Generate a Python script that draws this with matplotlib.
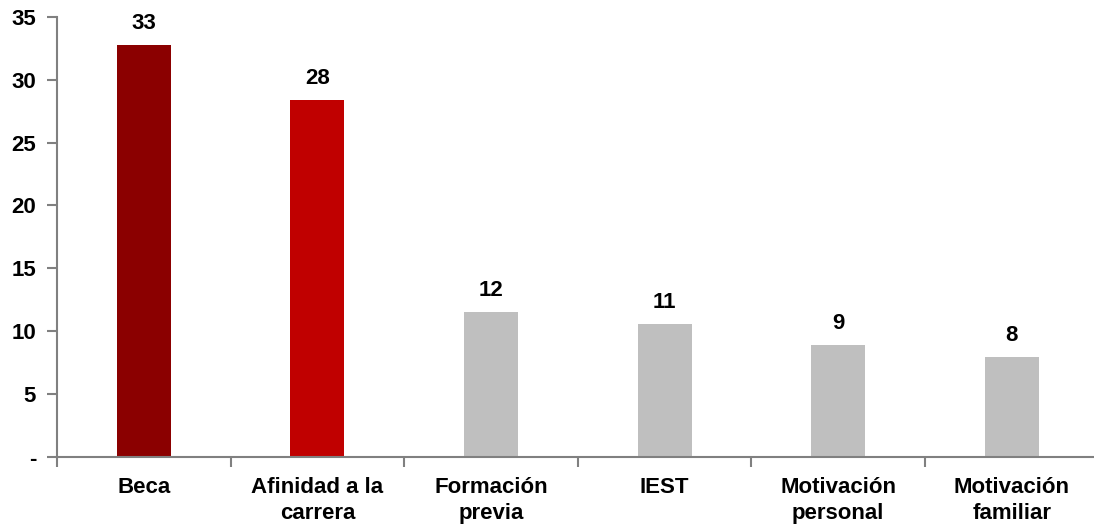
import matplotlib
matplotlib.use("Agg")
import matplotlib.pyplot as plt
from matplotlib.ticker import FixedLocator

# Reasons for choosing the programme (percent of respondents)
categories = ["Beca", "Afinidad a la\ncarrera", "Formación\nprevia", "IEST",
              "Motivación\npersonal", "Motivación\nfamiliar"]
values = [32.8, 28.4, 11.5, 10.55, 8.85, 7.95]
bar_colors = ["#8B0000", "#C00000", "#BFBFBF", "#BFBFBF", "#BFBFBF", "#BFBFBF"]
y_ticks = [0, 5, 10, 15, 20, 25, 30, 35]
y_tick_labels = ["-", "5", "10", "15", "20", "25", "30", "35"]

plt.rcParams["font.family"] = ["Liberation Sans", "DejaVu Sans"]
plt.rcParams["font.weight"] = "bold"
FS = 16

fig = plt.figure(figsize=(10.94, 5.24), dpi=100)
W, H = 1094, 524
ax = fig.add_axes([57 / W, 1 - 456.6 / H, (1098.6 - 57) / W, (456.6 - 17) / H])

x = list(range(len(categories)))
ax.bar(x, values, width=0.31, color=bar_colors, zorder=2)

for xi, v in zip(x, values):
    ax.annotate(f"{v:.0f}", xy=(xi, v), xytext=(0, 11.5), textcoords="offset points",
                ha="center", va="baseline", fontsize=FS, fontweight="bold")

ax.set_xlim(-0.5, len(categories) - 0.5)
ax.set_ylim(0, 35)

ax.set_yticks(y_ticks)
ax.set_yticklabels(y_tick_labels, fontsize=FS, fontweight="bold")

# Category labels centred under each bar; tick marks sit on the boundaries
ax.set_xticks(x)
ax.set_xticklabels(categories, fontsize=FS, fontweight="bold", linespacing=1.27)
ax.tick_params(axis="x", which="major", length=0, pad=15)
ax.xaxis.set_minor_locator(FixedLocator([i - 0.5 for i in range(len(categories) + 1)]))
ax.tick_params(axis="x", which="minor", length=7, width=1.5, color="#808080", direction="out")
ax.tick_params(axis="y", length=7, width=1.5, color="#808080", direction="out", pad=8)

for side in ("top", "right"):
    ax.spines[side].set_visible(False)
for side in ("left", "bottom"):
    ax.spines[side].set_color("#808080")
    ax.spines[side].set_linewidth(1.5)

fig.savefig("out.png", dpi=100)
